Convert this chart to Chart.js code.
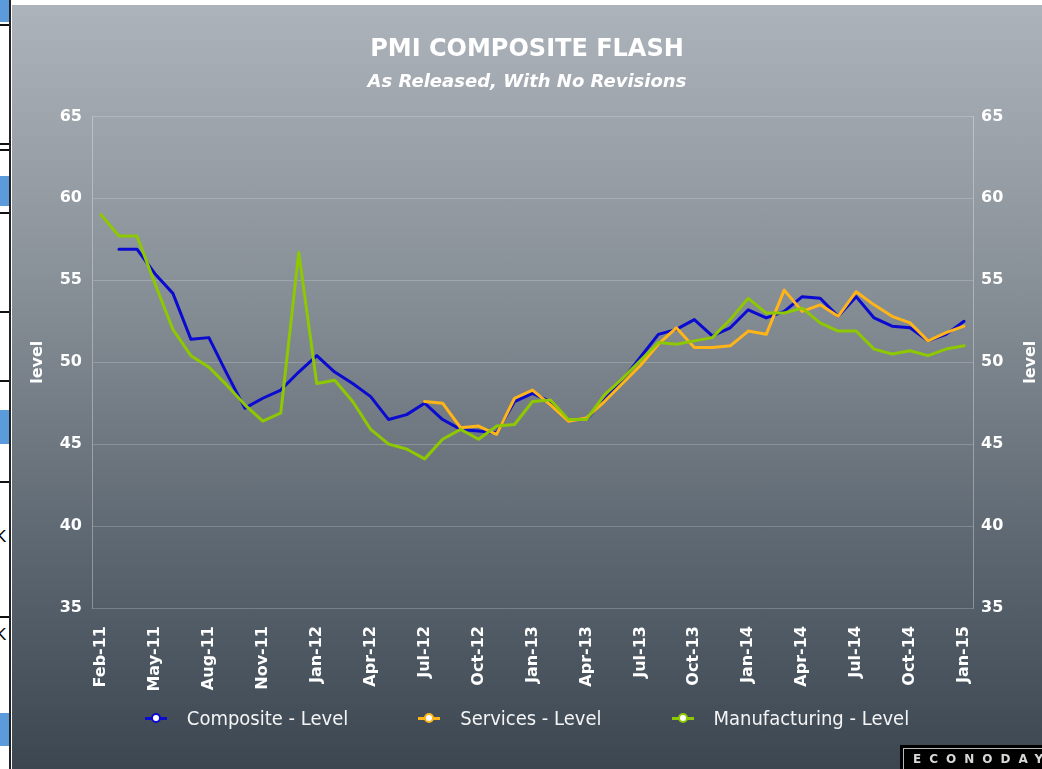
<!DOCTYPE html>
<html>
<head>
<meta charset="utf-8">
<script src="https://cdn.jsdelivr.net/npm/chart.js@4.4.1/dist/chart.umd.min.js"></script>
<style>
  html, body { margin: 0; padding: 0; background: #fff; width: 1042px; height: 769px; overflow: hidden; }
  #panel {
    position: absolute; left: 12px; top: 5px; width: 1030px; height: 764px;
    background: linear-gradient(to bottom, #adb3ba 0%, #8a9299 35%, #5e6872 70%, #3b4651 100%);
  }
  #chart { position: absolute; left: 0; top: 0; }
  .strip { position: absolute; left: 0; width: 9px; }
  .blue { background: #5b9bdc; }
  .rule { height: 2px; background: #111; }
  .kk { position: absolute; left: -4px; font: 15px "DejaVu Sans"; color: #000; }
  #vline { position: absolute; left: 9px; top: 0; width: 2px; height: 769px; background: #222; }
  #legend {
    position: absolute; left: 0; top: 699px; width: 1030px; height: 28px;
    display: flex; justify-content: center; align-items: center; gap: 70px;
    font: 20px "DejaVu Sans Condensed", "DejaVu Sans"; font-stretch: condensed; color: #f4f4f4;
  }
  .item { display: flex; align-items: center; }
  .mark { position: relative; width: 22px; height: 12px; margin-right: 20px; }
  .mark .ln { position: absolute; left: 0; top: 5px; width: 22px; height: 3px; }
  .mark .dot { position: absolute; left: 6px; top: 1px; width: 6px; height: 6px; border-radius: 50%; background: #fff; border: 2px solid; }
  #logo {
    position: absolute; left: 900px; top: 745px; width: 150px; height: 24px; background: #000;
  }
  #logo span {
    position: absolute; left: 3px; top: 3px; right: 0; bottom: 0; border: 1px solid #bbb; border-right: none; border-bottom: none;
    font: bold 12px "DejaVu Sans"; letter-spacing: 8px; color: #d8d8d8; padding: 3px 0 0 9px; box-sizing: border-box;
  }
</style>
</head>
<body>
<div class="strip blue" style="top:0;height:22px"></div>
<div class="strip rule" style="top:24px"></div>
<div class="strip rule" style="top:143px"></div>
<div class="strip rule" style="top:149px"></div>
<div class="strip blue" style="top:176px;height:30px"></div>
<div class="strip rule" style="top:212px"></div>
<div class="strip rule" style="top:311px"></div>
<div class="strip rule" style="top:380px"></div>
<div class="strip blue" style="top:410px;height:34px"></div>
<div class="strip rule" style="top:481px"></div>
<div class="kk" style="top:528px">K</div>
<div class="strip rule" style="top:616px"></div>
<div class="kk" style="top:626px">K</div>
<div class="strip blue" style="top:713px;height:33px"></div>
<div id="vline"></div>

<div id="panel">
  <canvas id="chart" width="1030" height="764"></canvas>
  <div id="legend"></div>
</div>
<div id="logo"><span>ECONODAY</span></div>

<script>
const chartTitle = 'PMI COMPOSITE FLASH';
const chartSubtitle = 'As Released, With No Revisions';
const yTitle = 'level';

// one category per release; Dec-11 shows up twice in the source series
const months = [
  'Feb-11', 'Mar-11', 'Apr-11', 'May-11', 'Jun-11', 'Jul-11', 'Aug-11', 'Sep-11', 'Oct-11', 'Nov-11',
  'Dec-11', 'Dec-11', 'Jan-12', 'Feb-12', 'Mar-12', 'Apr-12', 'May-12', 'Jun-12', 'Jul-12', 'Aug-12',
  'Sep-12', 'Oct-12', 'Nov-12', 'Dec-12', 'Jan-13', 'Feb-13', 'Mar-13', 'Apr-13', 'May-13', 'Jun-13',
  'Jul-13', 'Aug-13', 'Sep-13', 'Oct-13', 'Nov-13', 'Dec-13', 'Jan-14', 'Feb-14', 'Mar-14', 'Apr-14',
  'May-14', 'Jun-14', 'Jul-14', 'Aug-14', 'Sep-14', 'Oct-14', 'Nov-14', 'Dec-14', 'Jan-15'
];

const composite = [
  null, 56.9, 56.9, 55.4, 54.2, 51.4, 51.5, 49.3, 47.2, 47.8,
  48.3, 49.4, 50.4, 49.4, 48.7, 47.9, 46.5, 46.8, 47.5, 46.5,
  45.9, 45.8, 45.7, 47.6, 48.1, 47.6, 46.5, 46.5, 47.7, 48.9,
  50.3, 51.7, 52.0, 52.6, 51.6, 52.1, 53.2, 52.7, 53.1, 54.0,
  53.9, 52.8, 54.0, 52.7, 52.2, 52.1, 51.3, 51.7, 52.5
];

const services = [
  null, null, null, null, null, null, null, null, null, null,
  null, null, null, null, null, null, null, null, 47.6, 47.5,
  46.0, 46.1, 45.6, 47.8, 48.3, 47.4, 46.4, 46.6, 47.6, 48.7,
  49.8, 51.1, 52.1, 50.9, 50.9, 51.0, 51.9, 51.7, 54.4, 53.1,
  53.5, 52.8, 54.3, 53.5, 52.8, 52.4, 51.3, 51.8, 52.2
];

const manufacturing = [
  59.0, 57.7, 57.7, 54.8, 52.0, 50.4, 49.7, 48.6, 47.4, 46.4,
  46.9, 56.7, 48.7, 48.9, 47.6, 45.9, 45.0, 44.7, 44.1, 45.3,
  45.9, 45.3, 46.1, 46.2, 47.6, 47.7, 46.5, 46.5, 48.0, 49.0,
  50.1, 51.2, 51.1, 51.3, 51.5, 52.6, 53.9, 53.0, 53.0, 53.3,
  52.4, 51.9, 51.9, 50.8, 50.5, 50.7, 50.4, 50.8, 51.0
];

const yMin = 35;
const yMax = 65;
const yStep = 5;

const tickFont = { family: 'DejaVu Sans', size: 16, weight: 'bold' };
const gridColor = 'rgba(255,255,255,0.2)';
const edgeColor = 'rgba(255,255,255,0.32)';

// right hand "level" reads bottom-to-top like the left one
const rightTitle = {
  id: 'rightTitle',
  afterDraw(chart) {
    const { ctx, chartArea } = chart;
    const scale = chart.scales.y2;
    ctx.save();
    ctx.translate(scale.right - 11, (chartArea.top + chartArea.bottom) / 2);
    ctx.rotate(-Math.PI / 2);
    ctx.font = 'bold 16px "DejaVu Sans"';
    ctx.fillStyle = '#ffffff';
    ctx.textAlign = 'center';
    ctx.textBaseline = 'middle';
    ctx.fillText(yTitle, 0, 0);
    ctx.restore();
  }
};

const chart = new Chart(document.getElementById('chart'), {
  type: 'line',
  data: {
    labels: months,
    datasets: [
      { label: 'Composite - Level', data: composite, borderColor: '#0a0ad0', order: 2 },
      { label: 'Services - Level', data: services, borderColor: '#ffb418', order: 1 },
      { label: 'Manufacturing - Level', data: manufacturing, borderColor: '#8ec800', order: 0 }
    ]
  },
  options: {
    responsive: false,
    animation: false,
    devicePixelRatio: 1,
    layout: { padding: { left: 0, right: 0, top: 0, bottom: 61 } },
    elements: {
      line: { borderWidth: 3, tension: 0, fill: false, borderJoinStyle: 'round', borderCapStyle: 'round' },
      point: { radius: 0, hoverRadius: 0 }
    },
    plugins: {
      legend: { display: false },
      tooltip: { enabled: false },
      title: {
        display: true,
        text: chartTitle,
        color: '#ffffff',
        font: { family: 'DejaVu Sans', size: 24, weight: 'bold', lineHeight: 1.2 },
        padding: { top: 30, bottom: 0 }
      },
      subtitle: {
        display: true,
        text: chartSubtitle,
        color: '#ffffff',
        font: { family: 'DejaVu Sans', size: 18, weight: 'bold', style: 'italic', lineHeight: 1.2 },
        padding: { top: 8, bottom: 23 }
      }
    },
    scales: {
      x: {
        offset: true,
        grid: { display: false },
        border: { display: false },
        ticks: {
          autoSkip: false,
          maxRotation: 90,
          minRotation: 90,
          padding: 10,
          color: '#ffffff',
          font: tickFont,
          callback: (value, index) => (index % 3 === 0 ? months[index] : '')
        },
        afterFit: scale => { scale.height = 100; }
      },
      y: {
        position: 'left',
        min: yMin,
        max: yMax,
        grid: { color: gridColor, lineWidth: 1, drawTicks: false },
        border: { display: true, color: edgeColor, width: 1 },
        ticks: { stepSize: yStep, padding: 10, color: '#ffffff', font: tickFont },
        title: {
          display: true,
          text: yTitle,
          color: '#ffffff',
          font: { family: 'DejaVu Sans', size: 16, weight: 'bold', lineHeight: 1.2 },
          padding: { top: 16, bottom: 0 }
        },
        afterFit: scale => { scale.width = 80; }
      },
      y2: {
        position: 'right',
        min: yMin,
        max: yMax,
        grid: { display: false, drawTicks: false },
        border: { display: true, color: edgeColor, width: 1 },
        ticks: { stepSize: yStep, padding: 8, color: '#ffffff', font: tickFont },
        afterFit: scale => { scale.width = 69; }
      }
    }
  },
  plugins: [rightTitle]
});

// legend markers in the Econoday style: short line with a hollow dot
const legendBox = document.getElementById('legend');
chart.data.datasets.forEach(ds => {
  const item = document.createElement('div');
  item.className = 'item';
  item.innerHTML =
    '<span class="mark"><span class="ln" style="background:' + ds.borderColor + '"></span>' +
    '<span class="dot" style="border-color:' + ds.borderColor + '"></span></span>' +
    '<span>' + ds.label + '</span>';
  legendBox.appendChild(item);
});
</script>
</body>
</html>
